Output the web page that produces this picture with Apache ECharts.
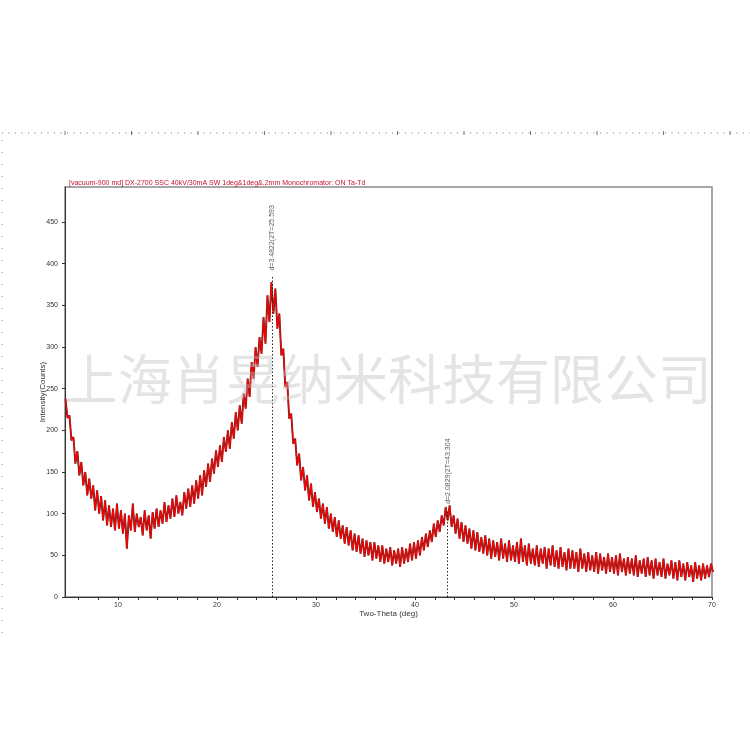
<!DOCTYPE html>
<html>
<head>
<meta charset="utf-8">
<script src="https://cdn.jsdelivr.net/npm/echarts@6/dist/echarts.min.js"></script>
<style>
html,body{margin:0;padding:0;background:#fff;}
#chart{width:750px;height:750px;}
</style>
</head>
<body>
<div id="chart"></div>
<script>
// ---- Data ----
const thetaStart = 4.7;    // first 2-theta sample (deg)
const thetaStep = 0.2;     // sampling step (deg)
const intensity = [
  238,215,218,188,192,  160,175,146,162,134,  150,122,142,118,134,  104,128,100,121,92,
  116,86,110,84,106,    80,112,82,104,76,     100,58,98,80,112,     78,100,84,96,74,
  104,80,98,70,102,     82,106,84,104,88,     114,90,110,94,118,    96,122,100,114,98,
  126,106,130,108,134,  112,140,118,146,122,  152,132,160,138,166,  148,176,156,182,162,
  192,174,200,178,210,  190,222,200,230,208,  244,226,262,240,282,  262,300,276,312,292,
  336,304,362,330,378,  340,370,322,340,290,  298,252,258,214,220,  184,190,158,172,140,
  156,128,146,116,136,  108,126,102,118,94,   112,88,108,82,100,    78,96,72,92,70,
  86,64,84,62,80,       56,76,54,74,52,       70,48,68,50,66,       44,66,46,62,42,
  62,40,58,42,60,       38,56,40,58,36,       60,40,58,42,64,       44,66,46,68,50,
  72,56,76,60,80,       66,88,72,92,78,       98,86,108,92,110,     84,98,76,94,70,
  90,66,86,64,82,       58,80,56,78,54,       72,52,74,50,70,       46,68,48,66,44,
  70,46,64,42,68,       44,62,42,66,40,       70,42,62,38,64,       40,58,38,62,36,
  58,40,60,34,58,       38,62,36,56,34,       60,36,54,32,58,       34,56,34,54,30,
  58,34,52,30,54,       32,50,30,54,28,       52,32,48,28,52,       30,48,28,50,26,
  52,30,46,26,48,       28,46,26,50,24,       44,28,46,24,48,       26,44,22,46,26,
  42,24,46,22,40,       26,44,22,42,20,       44,24,40,20,42,       24,38,18,42,22,
  38,20,40,22,38,       24,40,30
];
const peakTheta = [25.593, 43.304];
const peakText = ['d=3.4822(2T=25.593', 'd=2.0829(2T=43.304'];
const peakLineTop = [386, 104];
const peakTextY = [431, 151];
const xTickLabels = [10, 20, 30, 40, 50, 60, 70];
const xMinorTicks = [6,8,10,12,14,16,18,20,22,24,26,28,30,32,34,36,38,40,42,44,46,48,50,52,54,56,58,60,62,64,66,68,70];
const yTickLabels = [0, 50, 100, 150, 200, 250, 300, 350, 400, 450];
const headerText = '[vacuum-900 md] DX-2700 SSC 40kV/30mA SW 1deg&1deg&.2mm Monochromator: ON Ta-Td';
const watermark = '上海肖晃纳米科技有限公司';

const seriesData = intensity.map((v, i) => [+(thetaStart + thetaStep * i).toFixed(2), v]);

// ---- decorations: dotted ruler lines ----
const rulerEls = [];
rulerEls.push({type:'line', shape:{x1:2,y1:133,x2:750,y2:133}, style:{stroke:'#777', lineWidth:1, lineDash:[1,5.5]}, silent:true});
for (let x = 65; x < 750; x += 66.5) {
  rulerEls.push({type:'line', shape:{x1:x,y1:131,x2:x,y2:135}, style:{stroke:'#777', lineWidth:1}, silent:true});
}
rulerEls.push({type:'line', shape:{x1:2,y1:140,x2:2,y2:640}, style:{stroke:'#888', lineWidth:1, lineDash:[1,11]}, silent:true});

const chart = echarts.init(document.getElementById('chart'), null, {renderer:'canvas'});
const markLines = peakTheta.map((t, i) => [{coord:[t, 0]}, {coord:[t, peakLineTop[i]]}]);

chart.setOption({
  animation: false,
  backgroundColor: '#fff',
  title: {
    text: headerText, left: 64, top: 175,
    textStyle: {color:'#c8102e', fontSize:7, fontWeight:'normal', fontFamily:'Liberation Sans, Arial'}
  },
  grid: {left:65, right:38, top:187, bottom:153, containLabel:false, show:true, borderColor:'#8a8a8a', borderWidth:1.5},
  xAxis: {
    type:'value', min:4.65, max:70,
    name:'Two-Theta (deg)', nameLocation:'middle', nameGap:13, nameMoveOverlap:false,
    nameTextStyle:{fontSize:8, color:'#333', fontFamily:'Liberation Sans, Arial'},
    axisLine:{show:true, lineStyle:{color:'#333', width:1}},
    axisTick:{show:true, length:3, customValues:xMinorTicks, lineStyle:{color:'#333'}},
    axisLabel:{customValues:xTickLabels, fontSize:7, color:'#333', margin:5, fontFamily:'Liberation Sans, Arial'},
    splitLine:{show:false}
  },
  yAxis: {
    type:'value', min:0, max:492,
    name:'Intensity(Counts)', nameLocation:'middle', nameGap:18, nameMoveOverlap:false,
    nameTextStyle:{fontSize:8, color:'#333', fontFamily:'Liberation Sans, Arial'},
    axisLine:{show:true, lineStyle:{color:'#333', width:1}},
    axisTick:{show:true, length:3, customValues:yTickLabels, lineStyle:{color:'#333'}},
    axisLabel:{customValues:yTickLabels, fontSize:7, color:'#333', margin:7, fontFamily:'Liberation Sans, Arial'},
    splitLine:{show:false}
  },
  series: [
    {
      type:'line', data:seriesData, showSymbol:false, symbol:'none', silent:true,
      lineStyle:{color:'#4a3030', width:1.9}, z:2
    },
    {
      type:'line', data:seriesData, showSymbol:false, symbol:'none', silent:true,
      lineStyle:{color:'#ff0000', width:1.2}, z:3,
      markLine:{
        silent:true, symbol:['none','none'], animation:false,
        lineStyle:{color:'#222', type:[1.5,2], width:1},
        label:{show:false},
        data: markLines
      }
    },
    {
      type:'scatter', symbolSize:0, silent:true, z:4,
      data: peakTheta.map((t, i) => ({value:[t, peakTextY[i]], name:peakText[i]})),
      label:{show:true, position:'inside', rotate:90, formatter:p => p.name, fontSize:7, color:'#333', fontFamily:'Liberation Sans, Arial'}
    }
  ],
  graphic: rulerEls.concat([
    {type:'text', left:64, top:352, z:100, silent:true,
     style:{text:watermark, fill:'rgba(190,190,190,0.42)', font:'54px "Noto Sans CJK SC"'}}
  ])
});
</script>
</body>
</html>
